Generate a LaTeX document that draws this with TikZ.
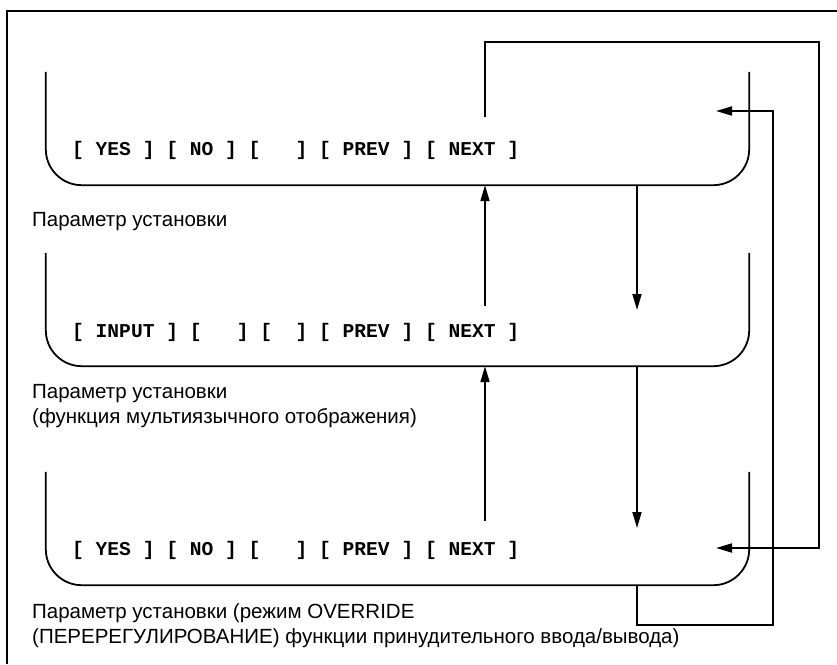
\documentclass[tikz,border=0pt]{standalone}
\usepackage{fontspec}
\newfontfamily\capfont{Liberation Sans}
\newfontfamily\keyfont{Liberation Mono}
\usetikzlibrary{arrows.meta, positioning}
\tikzset{
  scrnode/.style={minimum width=703pt,minimum height=113pt,inner sep=0pt},
  scrline/.style={line width=1.8pt,rounded corners=36pt},
  keytext/.style={anchor=west,inner sep=0pt,font=\keyfont\bfseries\fontsize{19.6}{22}\selectfont},
  captext/.style={anchor=north west,inner sep=0pt,align=left,font=\capfont\fontsize{20.5}{25}\selectfont},
  flowedge/.style={-{Triangle[length=16pt,width=9pt]},line width=1.8pt},
  frameline/.style={line width=1.8pt},
}

\begin{document}
\begin{tikzpicture}[x=1pt,y=-1pt]
  \useasboundingbox (0,0) rectangle (837,664);
  \draw[frameline] (7,664) -- (7,11) -- (837,11);

  % screens
  \node[scrnode] (scr1) at (397.5,128.5) {};
  \node[scrnode] (scr2) at (397.5,309.5) {};
  \node[scrnode] (scr3) at (397.5,528.5) {};
  \foreach \s in {scr1,scr2,scr3}
    \draw[scrline] (\s.north west) |- (\s.south) -| (\s.north east);

  \node[keytext] (key1) at (72,150) {[~YES~]~[~NO~]~[~~~]~[~PREV~]~[~NEXT~]};
  \node[keytext] (key2) at (72,332) {[~INPUT~]~[~~~]~[~~]~[~PREV~]~[~NEXT~]};
  \node[keytext] (key3) at (72,550) {[~YES~]~[~NO~]~[~~~]~[~PREV~]~[~NEXT~]};

  \node[captext] (cap1) at (32,212) {Параметр установки};
  \node[captext] (cap2) at (32,384) {Параметр установки\\(функция мультиязычного отображения)};
  \node[captext] (cap3) at (32,603) {Параметр установки (режим OVERRIDE\\(ПЕРЕРЕГУЛИРОВАНИЕ) функции принудительного ввода/вывода)};

  % connectors
  \coordinate (upx) at (485,0);
  \coordinate (dnx) at (637,0);
  \coordinate (tail1) at (485,117);
  \coordinate (tail2) at (485,306);
  \coordinate (tail3) at (485,521);
  \coordinate (tip2) at (637,310);
  \coordinate (tip3) at (637,528);
  \coordinate (backA) at (819,42);
  \coordinate (backB) at (773,625);
  \coordinate (in1) at (716,111);
  \coordinate (in3) at (716,548);

  \draw[flowedge] (tail2) -- (tail2 |- scr1.south);
  \draw[flowedge] (tail3) -- (tail3 |- scr2.south);
  \draw[flowedge] (scr1.south -| dnx) -- (tip2);
  \draw[flowedge] (scr2.south -| dnx) -- (tip3);
  \draw[flowedge] (tail1) |- (backA) |- (in3);
  \draw[flowedge] (scr3.south -| dnx) |- (backB) |- (in1);
\end{tikzpicture}
\end{document}
